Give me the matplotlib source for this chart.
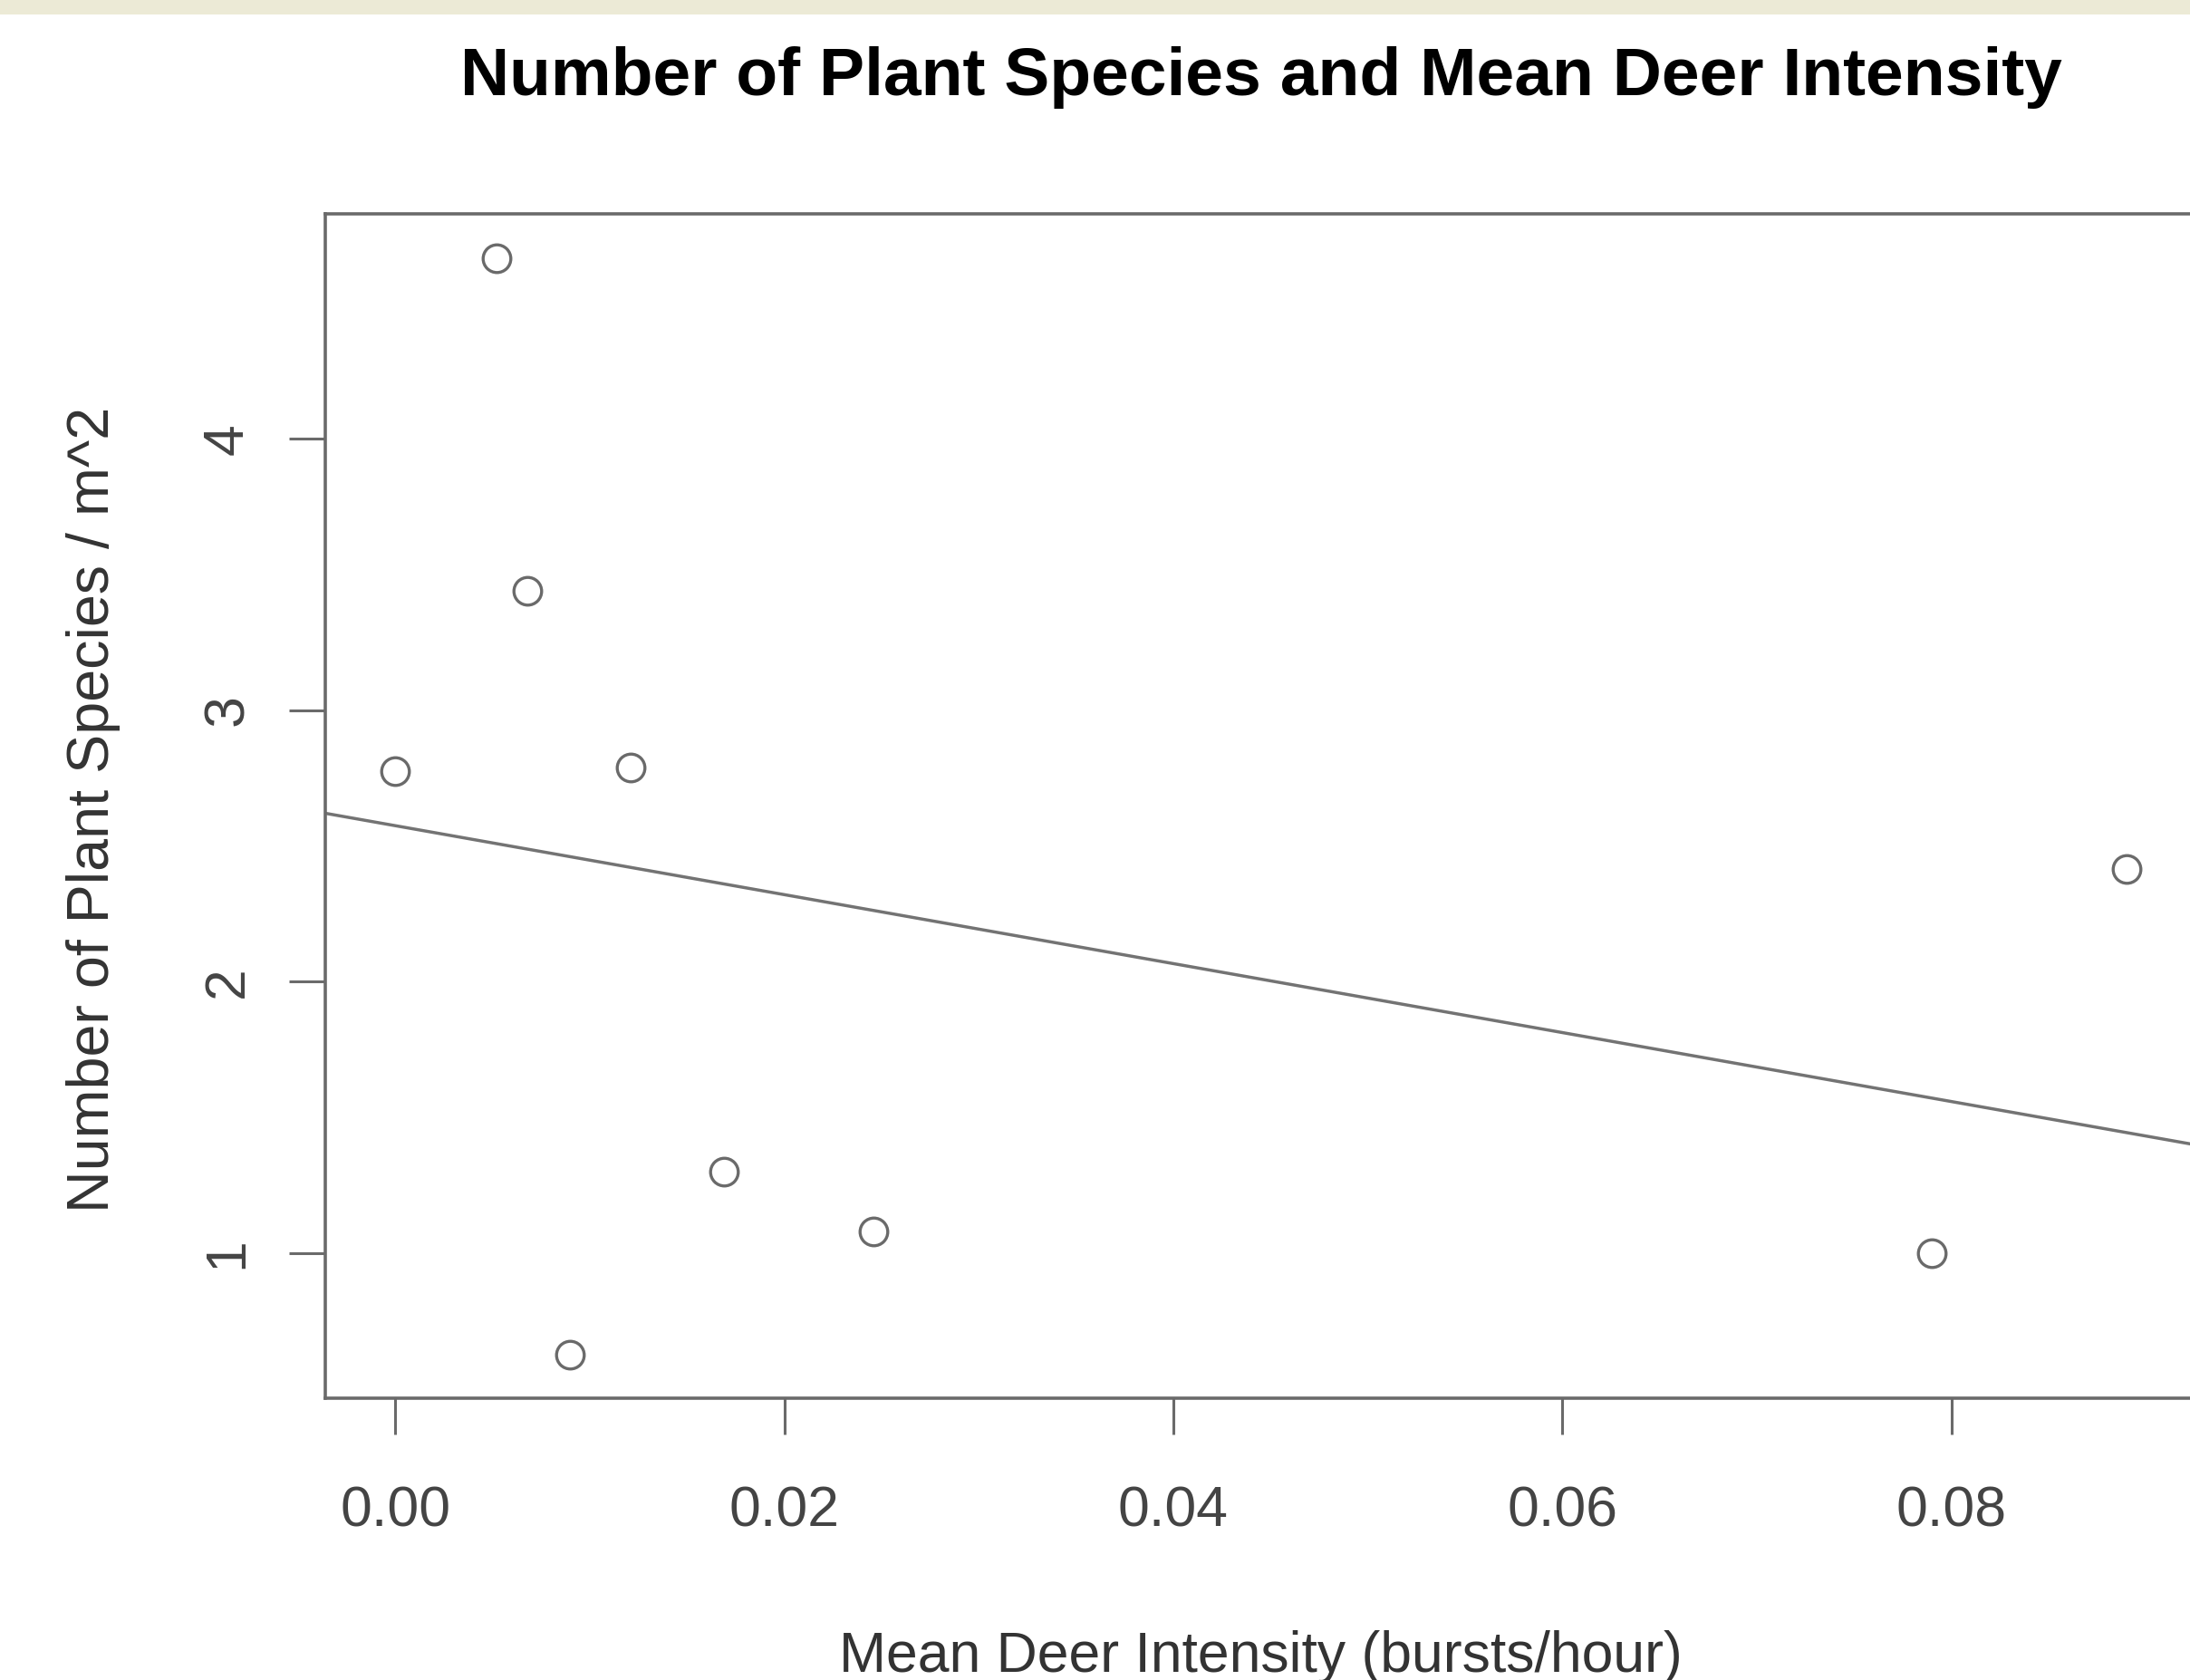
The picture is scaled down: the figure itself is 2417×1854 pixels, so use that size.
import numpy as np
import matplotlib
matplotlib.use("Agg")
import matplotlib.pyplot as plt
from matplotlib.patches import Rectangle

# data
deer_intensity = [0.0, 0.0052, 0.0068, 0.0090, 0.0121, 0.0169, 0.0246, 0.0790, 0.0890]
plant_species = [2.776, 4.665, 3.44, 0.624, 2.79, 1.30, 1.077, 1.0, 2.415]

x_ticks = [0.00, 0.02, 0.04, 0.06, 0.08]
x_tick_labels = ["0.00", "0.02", "0.04", "0.06", "0.08"]
y_ticks = [1, 2, 3, 4]
y_tick_labels = ["1", "2", "3", "4"]

title = "Number of Plant Species and Mean Deer Intensity"
x_label = "Mean Deer Intensity (bursts/hour)"
y_label = "Number of Plant Species / m^2"

plt.rcParams["font.family"] = ["Liberation Sans", "DejaVu Sans"]

W, H = 2417, 1854
fig = plt.figure(figsize=(W / 100, H / 100), dpi=100)
fig.patch.set_facecolor("white")

# beige strip at the very top
fig.patches.append(Rectangle((0, 1 - 16 / H), 1, 16 / H, transform=fig.transFigure,
                             facecolor="#ECEAD6", edgecolor="none", zorder=0))

ax_left, ax_right = 359 / W, 2424 / W
ax_top, ax_bottom = 1 - 236 / H, 1 - 1543 / H
ax = fig.add_axes([ax_left, ax_bottom, ax_right - ax_left, ax_top - ax_bottom])

grey = "#6a6a6a"
ax.plot(deer_intensity, plant_species, linestyle="none", marker="o", markersize=22,
        markerfacecolor="none", markeredgecolor=grey, markeredgewidth=2.4)

xlim = (-0.0036, 0.0926)
ylim = (0.464, 4.83)

# least squares line, like abline(lm(...)) in R
slope, intercept = np.polyfit(deer_intensity, plant_species, 1)
xs = np.array(xlim)
ax.plot(xs, intercept + slope * xs, color="#737373", linewidth=2.5)

ax.set_xlim(*xlim)
ax.set_ylim(*ylim)

for sp in ax.spines.values():
    sp.set_color(grey)
    sp.set_linewidth(2.6)

ax.set_xticks(x_ticks)
ax.set_xticklabels(x_tick_labels, fontsize=45, color="#444444", va="baseline")
ax.set_yticks(y_ticks)
ax.set_yticklabels(y_tick_labels, fontsize=45, color="#444444", rotation=90,
                   rotation_mode="anchor", ha="center", va="baseline")
ax.tick_params(axis="x", direction="out", length=28.8, width=2.2, color=grey, pad=73)
ax.tick_params(axis="y", direction="out", length=28.8, width=2.2, color=grey, pad=37)

cx = (ax_left + ax_right) / 2
fig.text(cx, 1 - 105 / H, title, fontsize=54, fontweight="bold", color="black",
         ha="center", va="baseline")
fig.text(cx, 1 - 1845 / H, x_label, fontsize=45, color="#333333",
         ha="center", va="baseline")
fig.text(120 / W, 1 - 893 / H, y_label, fontsize=46.5, color="#333333", rotation=90,
         rotation_mode="anchor", ha="center", va="baseline")

fig.savefig("out.png", dpi=100)
